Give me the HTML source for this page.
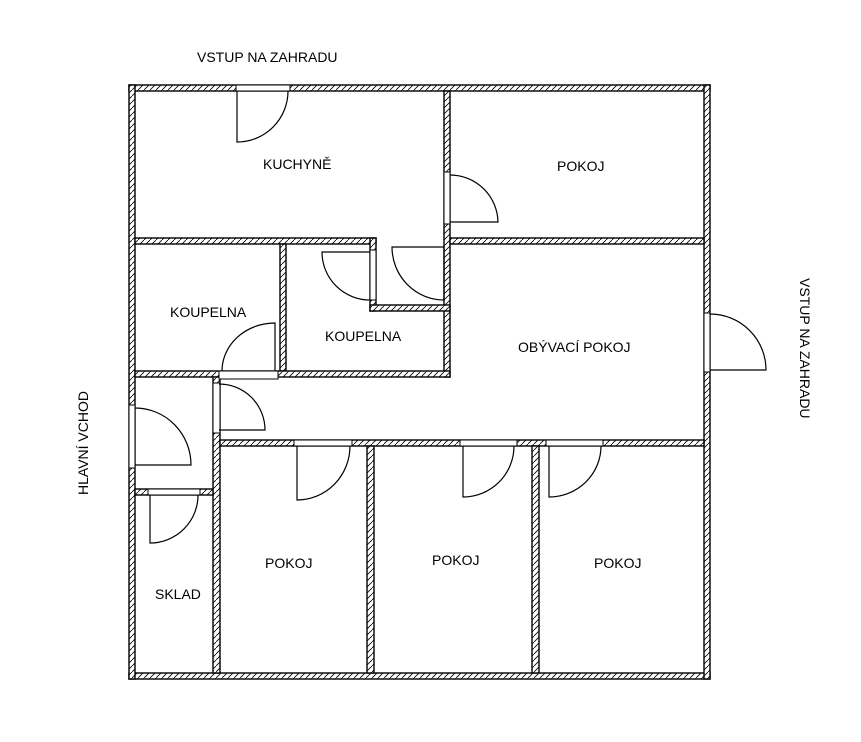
<!DOCTYPE html>
<html><head><meta charset="utf-8"><style>
html,body{margin:0;padding:0;background:#fff;}
svg{display:block;}
text{font-family:"Liberation Sans",sans-serif;font-size:14px;fill:#000;}
</style></head><body>
<svg width="861" height="742" viewBox="0 0 861 742" xmlns="http://www.w3.org/2000/svg">
<defs>
<pattern id="h" width="6" height="6" patternUnits="userSpaceOnUse">
<rect width="6" height="6" fill="#fff"/>
<path d="M-1,7 L7,-1" stroke="#000" stroke-width="0.8"/>
</pattern>
</defs>
<g fill="url(#h)" stroke="#000" stroke-width="1.4">
<!-- outer -->
<rect x="129" y="85" width="581" height="6"/>
<rect x="129" y="673" width="581" height="6"/>
<rect x="129" y="85" width="6" height="594"/>
<rect x="704" y="85" width="6" height="594"/>
<!-- kitchen right wall -->
<rect x="444" y="91" width="6" height="286"/>
<!-- pokoj bottom -->
<rect x="450" y="238" width="254" height="6"/>
<!-- kitchen bottom -->
<rect x="135" y="238" width="241" height="6"/>
<rect x="370" y="238" width="6" height="73"/>
<rect x="370" y="305" width="80" height="6"/>
<!-- koupelna1 right -->
<rect x="280" y="244" width="6" height="127"/>
<!-- bathrooms bottom -->
<rect x="135" y="371" width="315" height="6"/>
<!-- vestibule/corridor left -->
<rect x="213" y="377" width="7" height="296"/>
<rect x="135" y="489" width="78" height="6"/>
<!-- hall bottom -->
<rect x="220" y="440" width="484" height="6"/>
<rect x="367" y="446" width="7" height="227"/>
<rect x="532" y="446" width="7" height="227"/>
</g>
<!-- door openings -->
<g fill="#fff" stroke="#000" stroke-width="1">
<rect x="236" y="85" width="54" height="6"/>
<rect x="444" y="172" width="6" height="52"/>
<rect x="370" y="250" width="6" height="50"/>
<rect x="219" y="371" width="59" height="8"/>
<rect x="213" y="383" width="7" height="50"/>
<rect x="129" y="405" width="6" height="63"/>
<rect x="148" y="489" width="52" height="6"/>
<rect x="294" y="440" width="58" height="6"/>
<rect x="460" y="440" width="57" height="6"/>
<rect x="546" y="440" width="57" height="6"/>
<rect x="704" y="313" width="6" height="59"/>
</g>
<!-- leaves and arcs -->
<g fill="none" stroke="#000" stroke-width="1.2">
<path d="M237,91 V142 A51,51 0 0 0 288,91"/>
<path d="M450,175 A48,48 0 0 1 498,222 H450"/>
<path d="M444,247 V300 A52,53 0 0 1 392,247 Z"/>
<path d="M370,252 H322 A48,48 0 0 0 370,300"/>
<path d="M275,371 V323 A53,48 0 0 0 222,371"/>
<path d="M219,384 A46,46 0 0 1 265,430 H219"/>
<path d="M135,408 A56,57 0 0 1 191,465 H135"/>
<path d="M150,495 V543 A48,48 0 0 0 198,495"/>
<path d="M297,446 V500 A53,54 0 0 0 350,446"/>
<path d="M463,446 V497 A51,51 0 0 0 514,446"/>
<path d="M549,446 V497 A52,51 0 0 0 601,446"/>
<path d="M710,314 A56,56 0 0 1 766,370 H710"/>
</g>
<text x="197" y="62">VSTUP NA ZAHRADU</text>
<text x="263" y="169">KUCHYNĚ</text>
<text x="557" y="171">POKOJ</text>
<text x="170" y="317">KOUPELNA</text>
<text x="325" y="341">KOUPELNA</text>
<text x="518" y="352">OBÝVACÍ POKOJ</text>
<text x="265" y="568">POKOJ</text>
<text x="432" y="565">POKOJ</text>
<text x="594" y="568">POKOJ</text>
<text x="155" y="599">SKLAD</text>
<text transform="translate(800,278) rotate(90)">VSTUP NA ZAHRADU</text>
<text transform="translate(88,495) rotate(-90)">HLAVNÍ VCHOD</text>
</svg>
</body></html>
